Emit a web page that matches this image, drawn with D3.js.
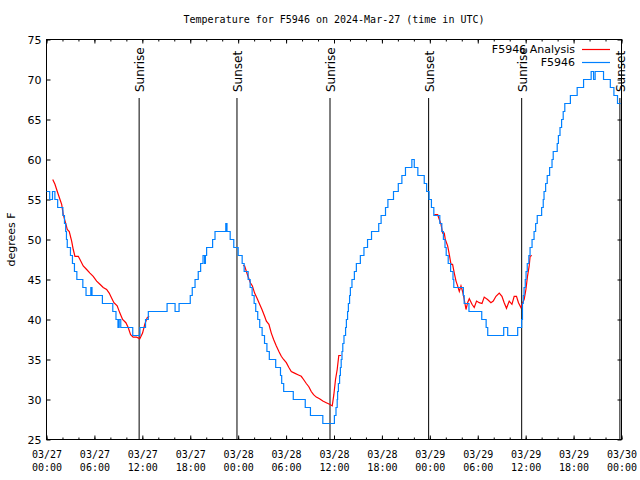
<!DOCTYPE html>
<html><head><meta charset="utf-8">
<script src="https://cdn.jsdelivr.net/npm/d3@7"></script>
<style>body{margin:0;background:#fff}</style>
</head><body><svg id="c" width="640" height="480"></svg>
<script>
// ---- data ----
const titleText = "Temperature for F5946 on 2024-Mar-27 (time in UTC)";
const yAxisLabel = "degrees F";
const seriesNames = ["F5946 Analysis", "F5946"];
const startUTC = Date.UTC(2024, 2, 27, 0, 0);
const spanHours = 72;
const yTickValues = [25, 30, 35, 40, 45, 50, 55, 60, 65, 70, 75];

// observed station temperatures: hour offset where the reading changes, and new value
const obsHours = [0,0.4,0.75,1.05,1.4,2.05,2.25,2.4,2.5,2.6,3.0,3.25,3.5,3.8,4.55,4.95,5.55,5.7,7.0,8.3,8.7,8.95,9.1,9.3,10.8,11.7,12.4,12.75,15.1,16.1,16.6,18.0,18.25,18.6,19.0,19.3,19.6,19.8,19.9,20.05,20.8,21.1,22.45,22.6,23.0,23.45,24.0,24.5,24.75,25.25,25.5,25.75,26.0,26.2,26.45,26.7,27.0,27.3,27.6,27.9,28.7,29.3,29.45,29.7,30.9,32.4,33.05,34.6,36.05,36.25,36.4,36.45,36.55,36.7,36.8,36.9,37.0,37.1,37.25,37.45,37.55,37.7,37.8,37.95,38.05,38.25,38.55,38.8,39.3,39.75,40.2,40.7,41.6,41.9,42.45,42.75,43.45,44.05,44.5,44.95,45.75,46.05,46.5,47.3,47.6,47.9,48.2,48.5,49.25,49.5,49.7,49.9,50.05,50.3,50.6,50.9,51.0,52.2,52.3,52.9,54.5,55.05,55.25,57.25,57.75,59.0,59.5,59.6,59.7,59.8,59.95,60.05,60.2,60.4,60.55,60.8,61.05,61.25,61.45,62.0,62.2,62.3,62.5,62.7,63.0,63.3,63.45,63.95,64.1,64.3,64.5,64.7,64.9,65.6,66.45,67.25,68.2,68.5,68.7,69.75,70.6,71.05,71.5,71.9];
const obsTemps = [56,55,56,55,54,53,52,51,50,49,48,47,46,45,44,43,44,43,42,41,40,39,40,39,38,39,40,41,42,41,42,43,44,45,46,47,48,47,48,49,50,51,52,51,50,49,48,47,46,45,44,43,42,41,40,39,38,37,36,35,34,33,32,31,30,29,28,27,28,29,30,31,32,33,34,35,36,37,38,39,40,41,42,43,44,45,46,47,48,49,50,51,52,53,54,55,56,57,58,59,60,59,58,57,56,55,54,53,52,51,50,49,48,47,46,45,44,43,42,41,40,39,38,39,38,39,40,42,43,44,45,46,47,48,49,50,51,52,53,54,55,56,57,58,59,60,61,62,63,64,65,66,67,68,69,70,71,70,71,70,69,68,67,67];

// analysis temperatures (null = no analysis)
const anaHours = [0.78,1.06,1.35,1.69,1.9,2.1,2.44,2.6,2.85,3.15,3.35,3.56,3.98,4.19,4.6,5.03,5.44,5.85,6.28,6.69,7.1,7.53,7.85,8.15,8.44,8.85,9.19,9.53,9.94,10.23,10.53,10.85,11.28,11.69,12.03,12.31,12.6,12.85,
  18,
  24.6,24.81,25.03,25.23,25.53,25.78,26.06,26.35,26.69,26.98,27.31,27.53,27.85,28.15,28.44,28.78,29.1,29.4,29.69,30.03,30.35,30.65,31.06,31.48,31.9,32.19,32.53,32.85,33.15,33.44,33.78,34.19,34.6,35.03,35.44,35.78,35.98,36.19,36.4,36.6,36.9,
  42,
  48.56,48.98,49.19,49.4,49.6,49.81,49.94,50.23,50.44,50.65,50.85,51.06,51.28,51.48,51.69,51.9,52.1,52.31,52.53,52.73,52.94,53.28,53.56,53.85,54.19,54.53,54.81,55.23,55.65,55.94,56.28,56.69,57.03,57.31,57.6,57.94,58.28,58.56,58.85,59.1,59.4,59.6,59.81,60.03,60.23,60.44,60.56,60.78];
const anaTemps = [57.5,56.9,56,55,54.4,53.1,51.9,51.25,51,49.8,48.75,47.9,47.9,47.5,46.7,46.25,45.8,45.4,44.8,44.4,44,43.75,43.3,42.7,42.1,41.7,40.8,40,39.6,39,38.1,37.8,37.8,37.6,38.3,39.4,40.2,40.4,
  null,
  46.75,46.7,46,45.4,44.6,44.2,43.3,42.7,41.9,41.25,40.4,39.8,39.4,38.3,37.5,36.7,36,35.4,35,34.6,34,33.5,33.3,33.1,32.9,32.5,32,31.6,31,30.6,30.3,30.1,29.8,29.6,29.4,29.2,30.6,32.5,33.75,35.5,35.5,
  null,
  53.1,53.1,52.5,51.9,50.8,50.8,50,49.2,48.1,46.9,46.9,45.8,44.8,44.2,43.5,44.2,43.5,42.5,41.25,42.1,42.6,41.9,41.5,42.3,42.1,42,42.8,42.5,42.1,42.3,42.9,43.3,42.9,42.1,41.4,42.3,41.9,42.9,42.9,42.1,41.5,42.1,42.5,43.75,45.4,46.7,47.9,48];

// sunrise / sunset times (hour offsets)
const eventHours = [11.6, 23.85, 35.5, 47.85, 59.5, 71.8];
const eventLabels = ["Sunrise", "Sunset", "Sunrise", "Sunset", "Sunrise", "Sunset"];

// ---- drawing ----
const H = 3600e3;
const toDate = h => new Date(startUTC + h * H);
const svg = d3.select("#c");
const L = 46.5, R = 621.5, T = 39.5, B = 439.5;
const sans = "DejaVu Sans, sans-serif";
const mono = "DejaVu Sans Mono, monospace";

const x = d3.scaleUtc().domain([toDate(0), toDate(spanHours)]).range([L, R]);
const y = d3.scaleLinear().domain([25, 75]).range([B, T]);

svg.append("rect").attr("width", 640).attr("height", 480).attr("fill", "#fff");

// title
svg.append("text").attr("x", (L + R) / 2).attr("y", 23).attr("text-anchor", "middle")
  .attr("font-family", mono).attr("font-size", 10).text(titleText);

// minor x ticks bottom/top
function styleAxis(g) { g.select(".domain").remove(); g.selectAll("line").attr("stroke", "#000"); }
svg.append("g").attr("transform", `translate(0,${B})`)
  .call(d3.axisBottom(x).ticks(d3.utcHour.every(2)).tickSize(-2).tickFormat("")).call(styleAxis);
svg.append("g").attr("transform", `translate(0,${T})`)
  .call(d3.axisTop(x).ticks(d3.utcHour.every(2)).tickSize(-2).tickFormat("")).call(styleAxis);
svg.append("g").attr("transform", `translate(0,${T})`)
  .call(d3.axisTop(x).ticks(d3.utcHour.every(6)).tickSize(-4).tickFormat("")).call(styleAxis);

const fmtD = d3.utcFormat("%m/%d"), fmtT = d3.utcFormat("%H:%M");
const xMajor = svg.append("g").attr("transform", `translate(0,${B})`)
  .call(d3.axisBottom(x).ticks(d3.utcHour.every(6)).tickSize(-4).tickPadding(0).tickFormat(""))
  .call(styleAxis);
xMajor.selectAll(".tick").each(function(d) {
  const t = d3.select(this).select("text")
    .attr("font-family", mono).attr("font-size", 10).attr("fill", "#000").attr("dy", null).attr("y", 0);
  t.append("tspan").attr("x", 0).attr("y", 18).text(fmtD(d));
  t.append("tspan").attr("x", 0).attr("y", 31).text(fmtT(d));
});

// y axes
svg.append("g").attr("transform", `translate(${L},0)`)
  .call(d3.axisLeft(y).tickValues(yTickValues).tickSize(-4).tickPadding(5))
  .call(styleAxis)
  .call(g => g.selectAll("text").attr("font-family", sans).attr("font-size", 11).attr("fill", "#000"));
svg.append("g").attr("transform", `translate(${R},0)`)
  .call(d3.axisRight(y).tickValues(yTickValues).tickSize(-4).tickFormat(""))
  .call(styleAxis);

// frame
svg.append("rect").attr("x", L).attr("y", T).attr("width", R - L).attr("height", B - T)
  .attr("fill", "none").attr("stroke", "#000").attr("stroke-width", 1);

// y label
svg.append("text").attr("transform", `translate(15,${(T + B) / 2}) rotate(-90)`)
  .attr("text-anchor", "middle").attr("font-family", sans).attr("font-size", 11).text(yAxisLabel);

// sunrise/sunset
const ev = svg.append("g");
eventHours.forEach((h, i) => {
  const xp = x(toDate(h));
  ev.append("line").attr("x1", xp).attr("x2", xp).attr("y1", 98).attr("y2", B)
    .attr("stroke", "#000").attr("stroke-width", 1);
  ev.append("text").attr("transform", `translate(${xp + 1},92) rotate(-90)`)
    .attr("text-anchor", "start").attr("dy", "0.35em")
    .attr("font-family", sans).attr("font-size", 12).text(eventLabels[i]);
});

// series
const obs = obsHours.map((h, i) => ({ t: toDate(h), v: obsTemps[i] }));
const ana = anaHours.map((h, i) => ({ t: toDate(h), v: anaTemps[i] }));

svg.append("path").datum(ana)
  .attr("d", d3.line().defined(d => d.v != null).x(d => x(d.t)).y(d => y(d.v)))
  .attr("fill", "none").attr("stroke", "#ff0000").attr("stroke-width", 1.2);
svg.append("path").datum(obs)
  .attr("d", d3.line().curve(d3.curveStepAfter).x(d => x(d.t)).y(d => y(d.v)))
  .attr("fill", "none").attr("stroke", "#0080ff").attr("stroke-width", 1.2);

// legend
const colors = ["#ff0000", "#0080ff"];
seriesNames.forEach((n, i) => {
  const yy = 49.5 + i * 13;
  svg.append("text").attr("x", 575).attr("y", yy).attr("dy", "0.35em").attr("text-anchor", "end")
    .attr("font-family", sans).attr("font-size", 11).text(n);
  svg.append("line").attr("x1", 582).attr("x2", 610).attr("y1", yy).attr("y2", yy)
    .attr("stroke", colors[i]).attr("stroke-width", 1.2);
});
</script></body></html>
